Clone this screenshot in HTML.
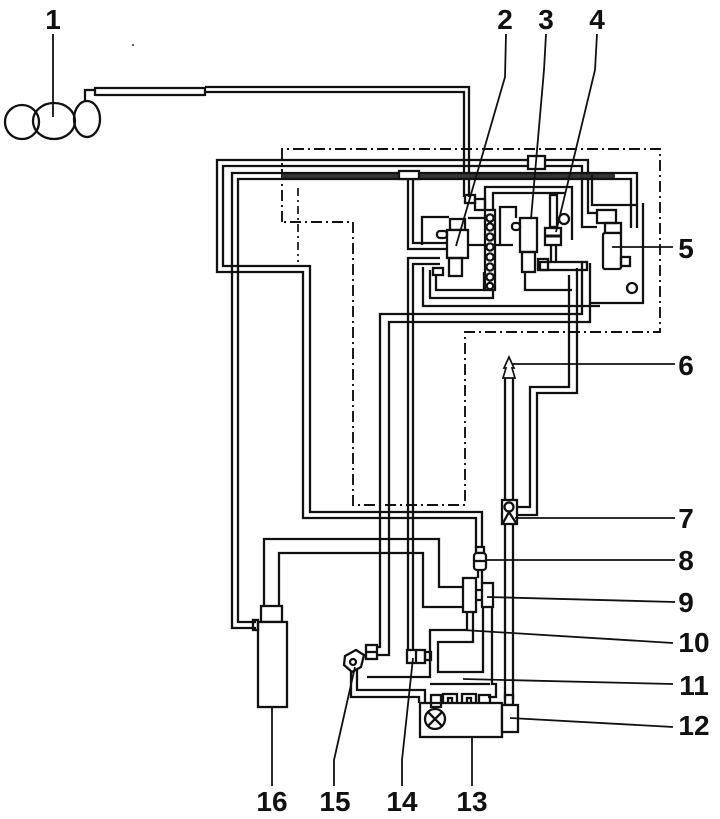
<!DOCTYPE html>
<html><head><meta charset="utf-8"><style>
html,body{margin:0;padding:0;background:#fff;}
svg{display:block;}
text{font-family:"Liberation Sans",Arial,sans-serif;font-weight:bold;font-size:28px;fill:#111;text-anchor:middle;}
</style></head><body>
<svg width="720" height="819" viewBox="0 0 720 819" xmlns="http://www.w3.org/2000/svg">
<rect width="720" height="819" fill="#fff"/>
<g fill="none" stroke="#111" stroke-width="2.3" stroke-linejoin="miter">

<!-- dash-dot module boundary -->
<path d="M282,222 L282,149 L660,149 L660,332 L465,332 L465,505 L353,505 L353,222 Z" stroke-dasharray="11 4 2 4" stroke-width="1.9"/>
<path d="M298,188 L298,262" stroke-dasharray="8 4 2 4" stroke-width="1.7"/>

<!-- component 1 -->
<ellipse cx="22" cy="122" rx="17" ry="17"/>
<ellipse cx="54" cy="121" rx="21" ry="18"/>
<ellipse cx="87" cy="119" rx="13" ry="18"/>
<path d="M85,101 L85,90 L95,90"/>
<path d="M95,88 L205,88 M95,95 L205,95 M95,87 L95,96 M205,87 L205,96"/>
<path d="M205,87 L469,87 L469,197 M205,92 L464,92 L464,197"/>
<rect x="465" y="195" width="10" height="8"/>
<rect x="475" y="199" width="10" height="11"/>

<!-- P1 outer pipe -->
<path d="M597,213 L588,213 L588,160 L217,160 L217,272 L303,272 L303,518 L476,518 L476,548"/>
<path d="M597,227 L582,227 L582,166 L223,166 L223,266 L310,266 L310,512 L482,512 L482,548"/>
<rect x="528" y="156" width="17" height="13" fill="#fff"/>

<!-- P2 thick pipe -->
<rect x="282" y="173" width="333" height="6" fill="#333" stroke="none"/>
<path d="M637,228 L637,173 L232,173 L232,628 L256,628"/>
<path d="M631,228 L631,179 L238,179 L238,622 L256,622"/>
<rect x="399" y="171" width="20" height="8" fill="#fff"/>
<path d="M408,180 L408,249 L447,249 M413,180 L413,243 L447,243"/>

<!-- pipe 14 -->
<path d="M440,258 L408,258 L408,650 M440,264 L413,264 L413,650"/>
<!-- pipe 15 -->
<path d="M590,263 L590,322 L389,322 L389,655 L377,655"/>
<path d="M582,263 L582,314 L380,314 L380,647 L377,647"/>
<!-- pipe to 7 -->
<path d="M577,268 L577,393 L537,393 L537,515 L517,515"/>
<path d="M569,275 L569,387 L530,387 L530,507 L517,507"/>

<!-- module interior -->
<path d="M422,245 L422,217 L449,217"/>
<path d="M468,218 L484,218"/>
<path d="M468,245 L486,245"/>
<path d="M430,270 L430,298 L493,298 L493,284"/>
<path d="M436,276 L436,290 L484,290 L484,272"/>
<path d="M423,267 L423,306 L600,306"/>
<path d="M485,210 L485,187 L543,187 M493,210 L493,193 L543,193"/>
<path d="M543,187 L572,187 L572,240 M543,193 L566,193"/>
<path d="M500,245 L500,207 L516,207 L516,218 M493,245 L513,245"/>
<path d="M592,175 L592,205 L637,205"/>
<path d="M590,303 L643,303 L643,203"/>
<path d="M525,272 L525,290 L572,290"/>

<!-- component 2 -->
<rect x="450" y="219" width="15" height="11"/>
<rect x="447" y="230" width="21" height="28" fill="#fff"/>
<rect x="449" y="258" width="13" height="18"/>
<rect x="437" y="231" width="10" height="7" rx="3"/>
<rect x="433" y="268" width="10" height="7"/>
<!-- manifold -->
<rect x="485" y="210" width="10" height="80" fill="#fff"/>
<circle cx="490" cy="218" r="3.6"/><circle cx="490" cy="227" r="3.6"/><circle cx="490" cy="237" r="3.6"/>
<circle cx="490" cy="247" r="3.6"/><circle cx="490" cy="257" r="3.6"/><circle cx="490" cy="267" r="3.6"/>
<circle cx="490" cy="277" r="3.6"/><circle cx="490" cy="286" r="3.2"/>

<!-- component 3 -->
<rect x="520" y="218" width="17" height="34" fill="#fff"/>
<rect x="512" y="223" width="8" height="7" rx="3"/>
<rect x="522" y="252" width="13" height="20"/>
<rect x="538" y="259" width="10" height="11"/>

<!-- component 4 -->
<rect x="550" y="195" width="7" height="32"/>
<rect x="545" y="228" width="16" height="17" fill="#fff"/>
<path d="M545,236 L561,236" stroke-width="3"/>
<path d="M551,245 L551,262 M556,245 L556,262"/>
<rect x="540" y="262" width="47" height="8"/>
<circle cx="564" cy="219" r="5"/>

<!-- component 5 -->
<rect x="597" y="210" width="19" height="13"/>
<rect x="605" y="223" width="16" height="10"/>
<rect x="603" y="233" width="18" height="36" rx="2" fill="#fff"/>
<rect x="621" y="257" width="9" height="9"/>
<circle cx="632" cy="288" r="5"/>

<!-- pipe 6 -->
<path d="M509,357 L504,368 L506,368 L503,378 L515,378 L512,368 L514,368 Z" stroke-width="1.7"/>
<path d="M505,378 L505,700 M513,378 L513,700"/>
<!-- component 7 -->
<rect x="502" y="500" width="15" height="24" fill="#fff"/>
<circle cx="509" cy="507" r="4.5"/>
<path d="M503,523 L509,512 L516,523"/>

<!-- component 8 -->
<rect x="476" y="547" width="8" height="6"/>
<rect x="474" y="553" width="12" height="17" rx="3" fill="#fff"/>
<path d="M474,561 L486,561"/>
<path d="M478,570 L478,578 M482,570 L482,583"/>

<!-- P3 from 16 to 9 -->
<path d="M264,606 L264,539 L439,539 L439,587 L463,587"/>
<path d="M279,606 L279,553 L423,553 L423,607 L463,607"/>

<!-- component 9 -->
<rect x="463" y="578" width="13" height="34" fill="#fff"/>
<rect x="482" y="583" width="11" height="24" fill="#fff"/>
<path d="M476,590 L482,590 M476,600 L482,600"/>

<!-- component 10 region -->
<path d="M367,677 L430,677 L430,630 L467,630 L467,612"/>
<path d="M483,607 L483,672 L438,672 L438,642 L473,642 L473,612"/>
<path d="M492,607 L492,684 L496,684 L496,697 L488,697"/>
<path d="M430,684 L490,684"/>

<!-- component 11 / pipes from 15 -->
<path d="M357,668 L357,690 L425,690 L425,703"/>
<path d="M351,672 L351,697 L419,697 L419,703"/>

<!-- component 13 -->
<rect x="420" y="703" width="82" height="34" fill="#fff"/>
<rect x="431" y="695" width="10" height="12"/>
<circle cx="435" cy="719" r="10" fill="#fff"/>
<path d="M428,712 L442,726 M442,712 L428,726"/>
<path d="M443,703 L443,694 L457,694 L457,703 M448,703 L448,698 L452,698 L452,703"/>
<path d="M462,703 L462,694 L476,694 L476,703 M467,703 L467,698 L471,698 L471,703"/>
<path d="M479,703 L479,695 L490,695 L490,703"/>
<!-- component 12 -->
<rect x="505" y="695" width="8" height="10"/>
<rect x="502" y="705" width="16" height="27" fill="#fff"/>

<!-- component 14 -->
<rect x="407" y="650" width="18" height="13" fill="#fff"/>
<path d="M416,650 L416,663"/>
<rect x="425" y="652" width="6" height="8"/>

<!-- component 15 -->
<path d="M345,656 L356,650 L364,655 L361,667 L352,672 L344,665 Z" fill="#fff"/>
<circle cx="353" cy="662" r="3"/>
<rect x="366" y="645" width="11" height="14" fill="#fff"/>
<path d="M366,652 L377,652"/>

<!-- component 16 -->
<rect x="261" y="606" width="21" height="16" fill="#fff"/>
<rect x="258" y="622" width="29" height="85" fill="#fff"/>
<rect x="253" y="620" width="5" height="10"/>
</g>

<!-- leader lines -->
<g fill="none" stroke="#111" stroke-width="1.8">
<path d="M53,34 L53,117"/>
<path d="M506,34 L505,77 L456,246"/>
<path d="M546,34 L544,70 L531,219"/>
<path d="M597,34 L595,70 L556,232"/>
<path d="M612,247 L673,247"/>
<path d="M512,364 L675,364"/>
<path d="M515,518 L675,518"/>
<path d="M486,560 L675,560"/>
<path d="M487,597 L675,602"/>
<path d="M463,630 L673,643"/>
<path d="M463,679 L673,684"/>
<path d="M510,718 L673,727"/>
<path d="M472,737 L472,786"/>
<path d="M413,658 L402,760 L402,786"/>
<path d="M355,667 L334,760 L334,786"/>
<path d="M272,707 L272,786"/>
</g>
<circle cx="133" cy="45" r="1" fill="#333"/>

<!-- labels -->
<text x="53" y="29">1</text>
<text x="505" y="29">2</text>
<text x="546" y="29">3</text>
<text x="597" y="29">4</text>
<text x="686" y="258">5</text>
<text x="686" y="375">6</text>
<text x="686" y="528">7</text>
<text x="686" y="570">8</text>
<text x="686" y="612">9</text>
<text x="694" y="652">10</text>
<text x="694" y="695">11</text>
<text x="694" y="735">12</text>
<text x="472" y="811">13</text>
<text x="402" y="811">14</text>
<text x="335" y="811">15</text>
<text x="272" y="811">16</text>
</svg>
</body></html>
